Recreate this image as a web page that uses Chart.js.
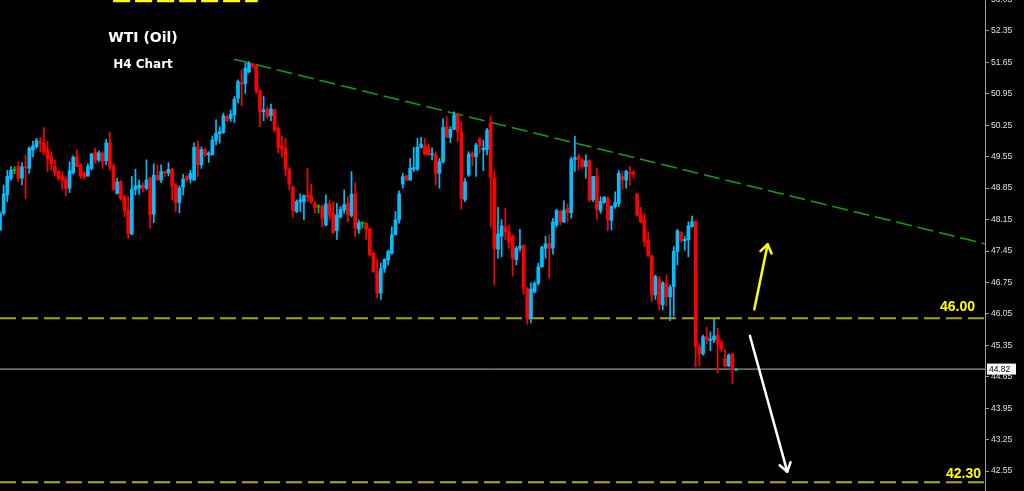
<!DOCTYPE html>
<html><head><meta charset="utf-8">
<script src="https://cdn.jsdelivr.net/npm/chart.js@4.4.1/dist/chart.umd.min.js"></script>
<style>html,body{margin:0;padding:0;background:#000;overflow:hidden}canvas{display:block}</style>
</head><body>
<canvas id="c" width="1024" height="491"></canvas>
<script>
// ---- Data (WTI H4 candles) ----
const opens = [47.92,48.29,48.70,49.07,49.25,49.33,49.07,49.33,49.29,49.70,
49.77,49.89,49.86,49.70,49.55,49.34,49.22,49.12,49.05,48.85,
49.19,49.55,49.37,49.18,49.12,49.29,49.66,49.48,49.63,49.46,
49.86,49.34,48.73,48.99,48.66,48.36,47.83,48.82,48.85,48.92,
48.85,49.07,48.27,49.14,49.03,49.22,49.19,49.27,48.92,48.53,
48.87,49.11,49.05,49.03,49.77,49.37,49.71,49.59,49.59,49.91,
50.06,50.09,50.44,50.40,50.48,50.85,51.20,51.18,51.44,51.62,
51.57,51.02,50.55,50.61,50.46,50.59,50.18,49.79,49.73,49.28,
48.87,48.33,48.55,48.55,48.70,48.68,48.51,48.44,48.44,48.03,
48.50,48.29,47.90,48.21,48.36,48.51,48.24,48.72,47.93,48.08,
48.07,47.95,47.41,46.99,46.51,47.06,47.25,47.40,47.81,48.14,
48.94,49.12,49.03,49.27,49.27,49.76,49.79,49.77,49.60,49.59,
49.18,49.44,50.22,49.98,50.16,50.50,50.11,48.59,49.14,49.63,
49.55,49.95,49.70,49.71,50.31,49.07,47.49,47.78,47.99,47.88,
47.78,47.26,47.51,47.58,46.62,45.95,46.54,46.73,47.10,47.51,
47.62,47.51,48.03,48.33,48.10,48.40,48.30,49.49,49.55,49.48,
49.33,49.46,48.59,49.11,48.35,48.53,48.62,48.13,48.44,48.51,
49.12,49.03,49.20,49.20,48.72,48.27,48.14,47.68,47.34,46.47,
46.82,46.25,46.73,46.43,46.66,47.44,47.86,47.68,47.70,47.99,
48.10,45.32,45.16,45.54,45.46,45.47,45.58,45.41,45.06,44.89,
45.16,44.80];
const highs = [48.33,48.92,49.25,49.33,49.33,49.44,49.42,49.59,49.77,49.89,
49.96,49.98,50.20,49.89,49.66,49.48,49.24,49.22,49.11,49.44,
49.57,49.71,49.39,49.22,49.39,49.63,49.74,49.68,49.66,49.94,
50.10,49.40,49.07,49.02,48.70,48.66,49.11,49.27,49.03,48.97,
49.48,49.09,49.39,49.37,49.37,49.23,49.42,49.29,48.96,48.90,
49.16,49.14,49.25,49.86,49.91,49.77,49.74,49.66,50.01,50.37,
50.22,50.52,50.48,50.59,50.89,51.26,51.48,51.63,51.67,51.63,
51.59,51.04,50.89,50.66,50.72,50.61,50.23,50.01,49.96,49.29,
48.90,48.59,48.72,48.70,49.29,48.94,48.55,48.48,48.48,48.70,
48.59,48.55,48.51,48.44,48.81,48.66,49.22,48.97,48.14,48.10,
48.08,47.95,47.41,47.27,47.18,47.27,47.47,47.99,48.33,48.79,
49.18,49.14,49.51,49.76,49.96,49.98,49.96,49.83,49.75,49.66,
49.51,50.40,50.44,50.22,50.55,50.52,50.33,49.07,49.66,49.66,
49.85,49.97,49.92,50.18,50.46,49.24,48.42,48.15,48.40,48.03,
47.81,47.55,47.93,47.58,46.64,46.74,46.77,47.18,47.56,47.78,
47.81,48.18,48.38,48.35,48.57,48.50,49.54,50.01,49.61,49.51,
49.59,49.48,49.11,49.29,48.66,48.66,48.66,48.45,48.77,49.24,
49.22,49.25,49.33,49.25,48.73,48.42,48.29,47.88,47.36,46.92,
46.88,46.77,46.92,46.69,47.55,47.93,47.88,47.78,48.10,48.23,
48.13,45.39,45.58,45.75,45.65,45.93,45.73,45.47,45.26,45.16,
45.16,44.83];
const lows = [47.90,48.25,48.55,49.03,49.17,48.99,48.92,48.62,49.18,49.54,
49.74,49.66,49.59,49.22,49.25,49.12,49.03,48.82,48.68,48.75,
49.16,49.33,49.07,49.05,49.11,49.25,49.40,49.44,49.29,49.37,
49.25,48.79,48.72,48.59,48.21,47.73,47.81,48.70,48.71,48.77,
48.81,47.96,48.08,49.03,48.97,49.11,49.12,48.59,48.33,48.30,
48.70,48.99,48.96,49.02,49.11,49.29,49.55,49.42,49.59,49.81,
49.85,50.07,50.33,50.33,50.31,50.74,50.69,50.96,51.42,51.52,
50.96,50.22,50.35,50.40,50.35,50.09,49.63,49.54,49.12,48.81,
48.20,48.30,48.33,48.14,48.55,48.51,48.29,48.29,47.99,48.01,
48.14,47.84,47.71,48.18,48.29,48.10,48.21,47.77,47.84,47.96,
47.71,47.34,46.97,46.40,46.37,46.97,47.14,47.38,47.81,48.07,
48.85,49.01,49.02,49.22,49.24,49.74,49.59,49.57,49.48,48.92,
48.85,49.40,49.98,49.86,50.15,49.89,48.38,48.55,49.11,49.34,
49.11,49.62,49.24,49.59,47.98,46.69,47.29,47.32,47.70,47.51,
46.89,47.14,47.44,46.49,45.82,45.85,46.51,46.69,47.09,47.29,
46.84,47.38,47.98,48.03,48.08,48.10,48.18,49.22,49.25,49.29,
49.07,48.55,48.55,48.16,48.29,48.51,47.90,47.92,48.40,48.44,
48.82,48.85,48.92,49.07,48.23,48.08,47.55,47.32,46.32,46.37,
46.14,46.14,46.22,45.90,46.00,47.14,47.64,47.47,47.32,47.98,
44.87,44.89,45.13,45.39,45.23,45.41,44.74,45.21,44.87,44.87,
44.50,44.79];
const closes = [48.29,48.72,49.11,49.25,49.25,49.07,49.33,49.30,49.74,49.79,
49.91,49.85,49.66,49.51,49.39,49.19,49.07,49.03,48.85,49.24,
49.54,49.33,49.12,49.09,49.33,49.61,49.46,49.64,49.44,49.86,
49.33,48.82,48.99,48.62,48.36,47.84,48.82,48.90,48.92,48.85,
49.03,48.25,49.14,49.03,49.22,49.18,49.27,48.90,48.53,48.85,
49.05,49.03,49.18,49.76,49.37,49.71,49.59,49.63,49.92,50.07,
50.11,50.46,50.35,50.50,50.83,51.22,51.16,51.52,51.63,51.56,
51.00,50.55,50.59,50.44,50.61,50.15,49.76,49.72,49.27,48.94,
48.35,48.55,48.59,48.68,48.66,48.55,48.42,48.44,48.18,48.50,
48.25,47.86,48.25,48.38,48.48,48.25,48.72,47.96,48.08,48.08,
47.93,47.36,46.99,46.51,47.06,47.27,47.44,47.81,48.14,48.72,
49.11,49.03,49.29,49.31,49.76,49.83,49.61,49.59,49.61,49.17,
49.44,50.20,49.98,50.16,50.48,50.11,48.62,48.99,49.61,49.55,
49.81,49.80,49.74,50.14,49.09,47.51,47.83,48.01,47.88,47.64,
47.29,47.51,47.56,46.62,45.95,46.60,46.73,47.10,47.53,47.61,
47.51,48.10,48.35,48.10,48.36,48.30,49.49,49.53,49.49,49.33,
49.46,48.59,49.11,48.38,48.55,48.65,48.14,48.45,48.53,49.18,
49.03,49.22,49.17,49.17,48.25,48.10,47.66,47.35,46.47,46.88,
46.27,46.74,46.43,46.64,47.44,47.90,47.68,47.71,48.01,48.10,
45.32,45.16,45.54,45.47,45.49,45.56,45.39,45.26,44.89,45.13,
44.82,44.82];

const yTicks = [42.55,43.25,43.95,44.65,45.35,46.05,46.75,47.45,48.15,48.85,49.55,50.25,50.95,51.65,52.35,53.05];
const lastPrice = 44.82;
const levelValues = [45.95, 42.30];
const levelLabels = ['46.00', '42.30'];
const trendX = [63.9, 269];
const trendY = [51.72, 47.61];
const topMarkX = [30.9, 70.4];
const topMarkY = [53.02, 53.02];
const upArrow = [[206.0, 46.15], [209.65, 47.60]];
const downArrow = [[204.8, 45.56], [215.0, 42.535]];
const titleText = 'WTI (Oil)';
const subtitleText = 'H4 Chart';

// ---- Build datasets ----
const UP = '#00BFFF', DOWN = '#FF0000', DOJI = '#00C800';
const colors = opens.map((o, i) => closes[i] > o ? UP : (closes[i] < o ? DOWN : DOJI));
const wickData = opens.map((o, i) => ({x: i, y: [lows[i], highs[i]]}));
const bodyData = opens.map((o, i) => {
  let lo = Math.min(o, closes[i]), hi = Math.max(o, closes[i]);
  if (hi - lo < 0.022) { const m = (hi + lo) / 2; lo = m - 0.011; hi = m + 0.011; }
  return {x: i, y: [lo, hi]};
});
const hline = (v) => [{x: 0, y: v}, {x: 269, y: v}];

const overlay = {
  id: 'overlay',
  beforeDraw(chart) {
    const c = chart.ctx;
    c.save(); c.fillStyle = '#000'; c.fillRect(0, 0, chart.width, chart.height); c.restore();
  },
  afterDraw(chart) {
    const c = chart.ctx, xs = chart.scales.x, ys = chart.scales.y, ca = chart.chartArea;
    c.save();
    // titles
    c.fillStyle = '#ffffff';
    c.textAlign = 'center';
    c.textBaseline = 'alphabetic';
    c.font = 'bold 14px "DejaVu Sans"';
    c.fillText(titleText, 143, 41.5);
    c.font = 'bold 12px "DejaVu Sans"';
    c.fillText(subtitleText, 143, 68);
    // level labels
    c.font = 'bold 14px "Liberation Sans"';
    c.textAlign = 'right';
    c.fillStyle = '#FFFF00';
    c.fillText(levelLabels[0], ca.right - 10, ys.getPixelForValue(levelValues[0]) - 7);
    c.fillText(levelLabels[1], ca.right - 4, ys.getPixelForValue(levelValues[1]) - 4);
    // arrows
    const drawArrow = (a, col) => {
      const x1 = xs.getPixelForValue(a[0][0]), y1 = ys.getPixelForValue(a[0][1]);
      const x2 = xs.getPixelForValue(a[1][0]), y2 = ys.getPixelForValue(a[1][1]);
      const ang = Math.atan2(y2 - y1, x2 - x1);
      c.strokeStyle = col; c.lineWidth = 2.5; c.lineCap = 'round'; c.lineJoin = 'round';
      c.beginPath(); c.moveTo(x1, y1); c.lineTo(x2, y2); c.stroke();
      const L = 10, s = 0.6;
      c.beginPath();
      c.moveTo(x2 - L * Math.cos(ang - s), y2 - L * Math.sin(ang - s));
      c.lineTo(x2, y2);
      c.lineTo(x2 - L * Math.cos(ang + s), y2 - L * Math.sin(ang + s));
      c.stroke();
    };
    drawArrow(upArrow, '#FFFF00');
    drawArrow(downArrow, '#FFFFFF');
    // last price box
    const py = ys.getPixelForValue(lastPrice);
    c.fillStyle = '#ffffff';
    c.fillRect(ca.right + 2, py - 5.5, 29, 11);
    c.fillStyle = '#000000';
    c.font = '8.5px "Liberation Sans"';
    c.textAlign = 'left'; c.textBaseline = 'middle';
    c.fillText(lastPrice.toFixed(2), ca.right + 4, py + 0.5);
    c.restore();
  }
};

new Chart(document.getElementById('c'), {
  type: 'bar',
  data: {
    datasets: [
      {type: 'line', data: hline(levelValues[0]), borderColor: '#A8A800', borderWidth: 2, borderDash: [16, 6], pointRadius: 0, fill: false, order: 5},
      {type: 'line', data: hline(levelValues[1]), borderColor: '#B0B000', borderWidth: 2, borderDash: [16, 6], pointRadius: 0, fill: false, order: 5},
      {type: 'line', data: hline(lastPrice), borderColor: '#B8B8B8', borderWidth: 1, pointRadius: 0, fill: false, order: 5},
      {type: 'line', data: [{x: trendX[0], y: trendY[0]}, {x: trendX[1], y: trendY[1]}], borderColor: '#10A010', borderWidth: 1.5, borderDash: [16, 6], pointRadius: 0, fill: false, order: 5},
      {type: 'line', data: [{x: topMarkX[0], y: topMarkY[0]}, {x: topMarkX[1], y: topMarkY[1]}], borderColor: '#FFFF00', borderWidth: 2.5, borderDash: [17, 5], pointRadius: 0, fill: false, order: 5},
      {data: wickData, backgroundColor: colors, borderWidth: 0, barThickness: 1, order: 2},
      {data: bodyData, backgroundColor: colors, borderWidth: 0, barThickness: 3, order: 1}
    ]
  },
  options: {
    responsive: false,
    animation: false,
    events: [],
    layout: {padding: 0},
    datasets: {bar: {grouped: false}},
    plugins: {legend: {display: false}, tooltip: {enabled: false}, title: {display: false}},
    scales: {
      x: {type: 'linear', min: 0, max: 269, display: false, offset: false},
      y: {
        position: 'right', min: 42.105, max: 53.04,
        afterBuildTicks: (s) => { s.ticks = yTicks.map(v => ({value: v})); },
        afterFit: (s) => { s.width = 39; s.paddingTop = 0; s.paddingBottom = 0; },
        border: {display: true, color: '#A0A0A0', width: 1},
        grid: {drawOnChartArea: false, drawTicks: true, tickLength: 4, color: '#A0A0A0'},
        ticks: {color: '#E0E0E0', font: {family: '"Liberation Sans"', size: 8.5}, padding: 2, autoSkip: false,
          callback: (v) => Number(v).toFixed(2)}
      }
    }
  },
  plugins: [overlay]
});
</script>
</body></html>
